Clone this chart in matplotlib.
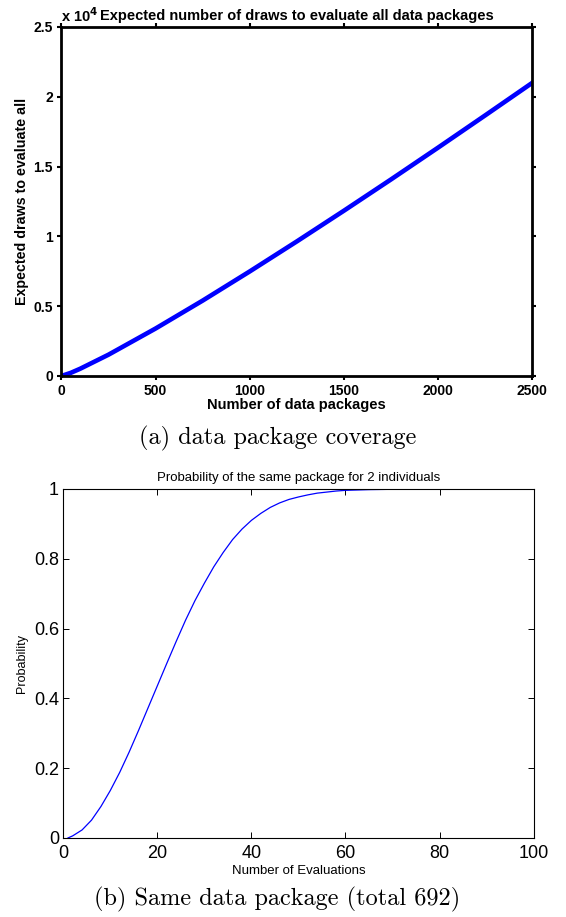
import matplotlib
matplotlib.use('Agg')
import matplotlib.pyplot as plt
from matplotlib.ticker import FuncFormatter

# (a) expected draws to evaluate all data packages
n_packages = [0, 50, 100, 250, 500, 750, 1000, 1250, 1500, 1750, 2000, 2250, 2500]
expected_draws = [0, 225, 520, 1525, 3400, 5400, 7490, 9640, 11840, 14080, 16360, 18670, 21000]

# (b) probability of the same package for 2 individuals (total 692)
n_eval = [1, 2, 4, 6, 8, 10, 12, 14, 16, 18, 20, 22, 24, 26, 28, 30, 32, 34, 36, 38,
          40, 42, 44, 46, 48, 50, 52, 54, 56, 58, 60, 65, 70, 80, 90, 100]
prob_same = [0.0, 0.006, 0.023, 0.051, 0.090, 0.136, 0.188, 0.246, 0.308, 0.372,
             0.436, 0.500, 0.563, 0.624, 0.680, 0.730, 0.777, 0.818, 0.855, 0.885,
             0.910, 0.930, 0.947, 0.960, 0.970, 0.977, 0.983, 0.988, 0.991, 0.994,
             0.996, 0.998, 0.999, 1.0, 1.0, 1.0]

plt.rcParams['font.family'] = ['Liberation Sans', 'DejaVu Sans']

fig = plt.figure(figsize=(5.66, 9.17), dpi=100)

# ---- top panel ----
ax1 = fig.add_axes([0.1085, 0.590, 0.832, 0.3806])
ax1.plot(n_packages, expected_draws, color='#0000ff', linewidth=3.3)
ax1.set_xlim(0, 2500)
ax1.set_ylim(0, 25000)
ax1.set_xticks([0, 500, 1000, 1500, 2000, 2500])
ax1.set_yticks([0, 5000, 10000, 15000, 20000, 25000])
ax1.yaxis.set_major_formatter(FuncFormatter(lambda v, p: f'{v / 1e4:g}'))
ax1.tick_params(direction='out', length=3, width=1.5, top=True, right=True,
                labelsize=10, pad=3)
for lab in ax1.get_xticklabels() + ax1.get_yticklabels():
    lab.set_fontweight('bold')
for sp in ax1.spines.values():
    sp.set_linewidth(2)
ax1.set_title('Expected number of draws to evaluate all data packages',
              fontsize=10.5, fontweight='bold', pad=5)
ax1.text(0.0, 1.006, r'x 10$^{\mathbf{4}}$', transform=ax1.transAxes, fontsize=10.5,
         fontweight='bold', ha='left', va='bottom')
ax1.set_xlabel('Number of data packages', fontsize=10.5, fontweight='bold', labelpad=0)
ax1.set_ylabel('Expected draws to evaluate all', fontsize=10.3, fontweight='bold',
               labelpad=3)

fig.text(0.49, 1 - 438 / 917, '(a) data package coverage', fontfamily='cmr10',
         fontsize=17.5, ha='center', va='center')

# ---- bottom panel ----
ax2 = fig.add_axes([0.1118, 0.0862, 0.831, 0.3806])
ax2.plot(n_eval, prob_same, color='#0000ff', linewidth=0.9)
ax2.set_xlim(0, 100)
ax2.set_ylim(0, 1)
ax2.set_xticks([0, 20, 40, 60, 80, 100])
ax2.set_yticks([0, 0.2, 0.4, 0.6, 0.8, 1])
ax2.yaxis.set_major_formatter(FuncFormatter(lambda v, p: f'{v:g}'))
ax2.tick_params(direction='in', length=4, width=0.7, top=True, right=True,
                labelsize=13, pad=3)
ax2.tick_params(axis='x', pad=5)
for sp in ax2.spines.values():
    sp.set_linewidth(0.8)
ax2.set_title('Probability of the same package for 2 individuals', fontsize=9.5, pad=6)
ax2.set_xlabel('Number of Evaluations', fontsize=9.5, labelpad=2)
ax2.set_ylabel('Probability', fontsize=9, labelpad=4)

fig.text(0.49, 1 - 899 / 917, '(b) Same data package (total 692)', fontfamily='cmr10',
         fontsize=17.5, ha='center', va='center')

fig.savefig('out.png', dpi=100)
